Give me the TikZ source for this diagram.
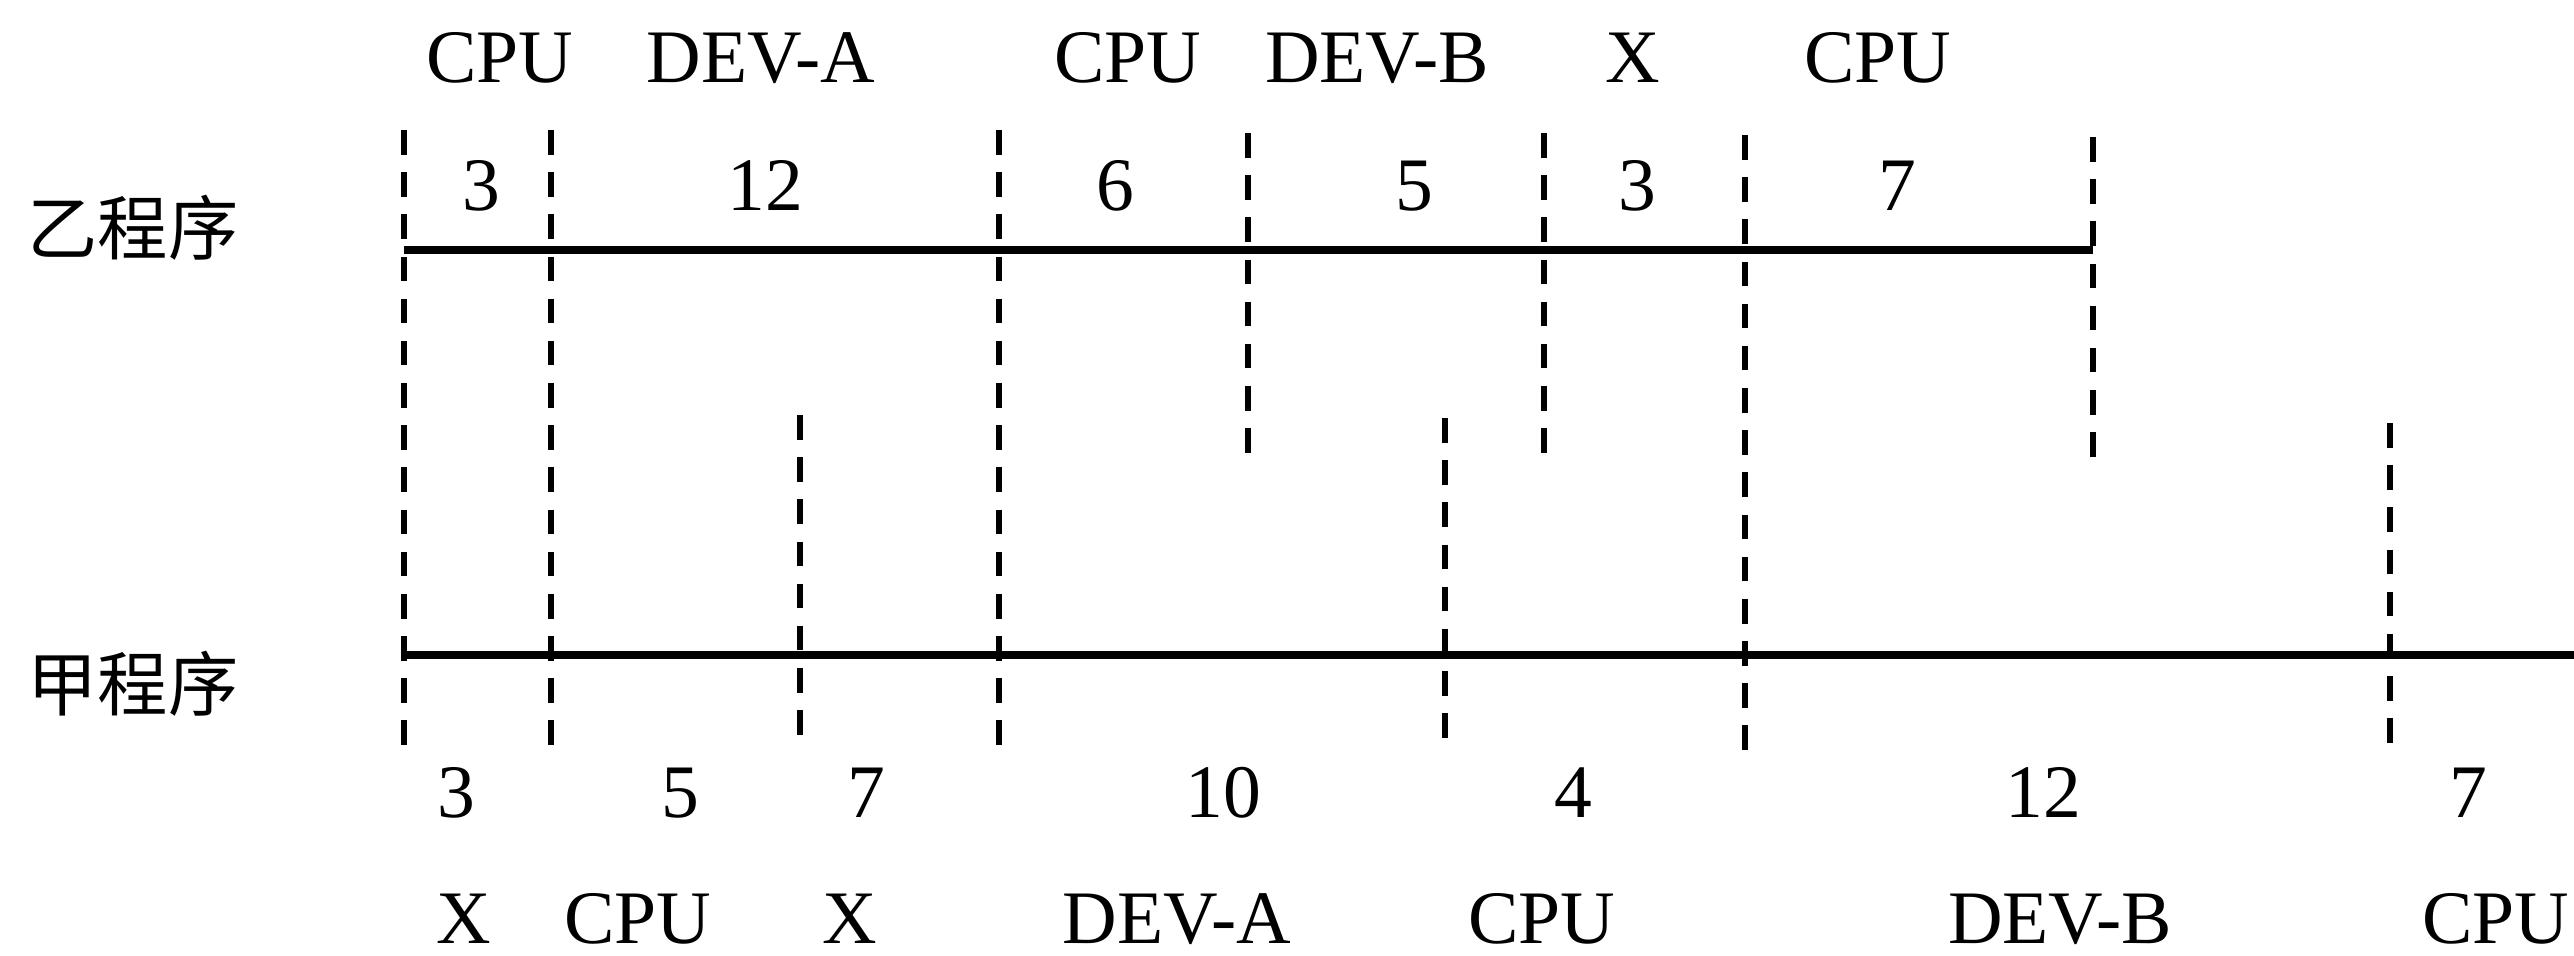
\documentclass[tikz,border=0pt]{standalone}
\usepackage{fontspec}
\setmainfont{Liberation Serif}
\newfontfamily\cjk{Noto Sans CJK SC}
\begin{document}
\begin{tikzpicture}[
  seg/.style={line width=2.1pt},
  vdash/.style={line width=1.7pt, dash pattern=on 7pt off 5pt},
  lbl/.style={font=\fontsize{21.5}{24}\selectfont, anchor=base, inner sep=0pt},
  prog/.style={font=\cjk\fontsize{20}{24}\selectfont, inner sep=0pt}
]
\useasboundingbox (0,0) rectangle (25.74,-9.55);
% program names
\node[prog] (yi) at (1.33,-2.28) {乙程序};
\node[prog] (jia) at (1.33,-6.84) {甲程序};
% timeline endpoints
\coordinate (ys) at (4.04,-2.50);
\coordinate (ye) at (20.93,-2.50);
\coordinate (js) at (4.04,-6.55);
\coordinate (je) at (25.74,-6.55);
\draw[seg] (ys) -- (ye);
\draw[seg] (js) -- (je);
% vertical dashed markers
\coordinate (v1t) at (4.04,-1.30);  \coordinate (v1b) at (4.04,-7.58);
\coordinate (v2t) at (5.51,-1.30);  \coordinate (v2b) at (5.51,-7.58);
\coordinate (v3t) at (8.00,-4.15);  \coordinate (v3b) at (8.00,-7.45);
\coordinate (v4t) at (9.99,-1.30);  \coordinate (v4b) at (9.99,-7.60);
\coordinate (v5t) at (12.48,-1.33); \coordinate (v5b) at (12.48,-4.58);
\coordinate (v6t) at (14.45,-4.18); \coordinate (v6b) at (14.45,-7.48);
\coordinate (v7t) at (15.44,-1.33); \coordinate (v7b) at (15.44,-4.62);
\coordinate (v8t) at (17.45,-1.35); \coordinate (v8b) at (17.45,-7.65);
\coordinate (v9t) at (20.93,-1.37); \coordinate (v9b) at (20.93,-4.63);
\coordinate (v10t) at (23.90,-4.23); \coordinate (v10b) at (23.90,-7.53);
\foreach \i in {1,...,10} { \draw[vdash] (v\i t) -- (v\i b); }
% top labels (乙)
\node[lbl] (ta1) at (5.00,-0.82) {CPU};
\node[lbl] (ta2) at (7.61,-0.82) {DEV-A};
\node[lbl] (ta3) at (11.28,-0.82) {CPU};
\node[lbl] (ta4) at (13.77,-0.82) {DEV-B};
\node[lbl] (ta5) at (16.33,-0.82) {X};
\node[lbl] (ta6) at (18.78,-0.82) {CPU};
\node[lbl] (tn1) at (4.81,-2.10) {3};
\node[lbl] (tn2) at (7.65,-2.10) {12};
\node[lbl] (tn3) at (11.15,-2.10) {6};
\node[lbl] (tn4) at (14.14,-2.10) {5};
\node[lbl] (tn5) at (16.37,-2.10) {3};
\node[lbl] (tn6) at (18.97,-2.10) {7};
% bottom numbers (甲)
\node[lbl] (bn1) at (4.56,-8.17) {3};
\node[lbl] (bn2) at (6.80,-8.17) {5};
\node[lbl] (bn3) at (8.66,-8.17) {7};
\node[lbl] (bn4) at (12.23,-8.17) {10};
\node[lbl] (bn5) at (15.73,-8.17) {4};
\node[lbl] (bn6) at (20.43,-8.17) {12};
\node[lbl] (bn7) at (24.68,-8.17) {7};
% bottom labels
\node[lbl] (ba1) at (4.64,-9.43) {X};
\node[lbl] (ba2) at (6.38,-9.43) {CPU};
\node[lbl] (ba3) at (8.50,-9.43) {X};
\node[lbl] (ba4) at (11.77,-9.43) {DEV-A};
\node[lbl] (ba5) at (15.42,-9.43) {CPU};
\node[lbl] (ba6) at (20.60,-9.43) {DEV-B};
\node[lbl] (ba7) at (24.96,-9.43) {CPU};
\end{tikzpicture}
\end{document}
